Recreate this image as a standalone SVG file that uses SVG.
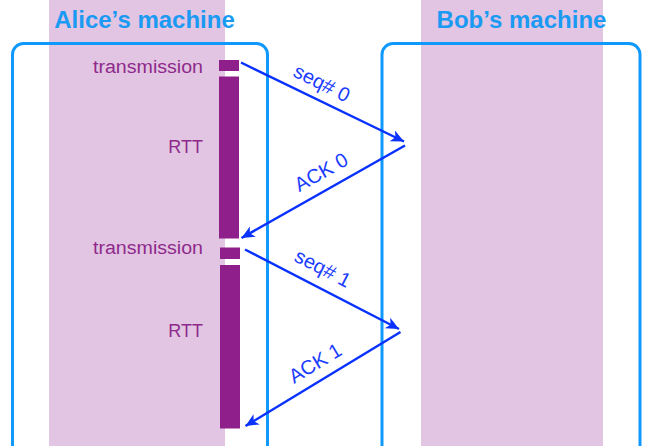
<svg xmlns="http://www.w3.org/2000/svg" width="652" height="446" viewBox="0 0 652 446">
<defs>
<style>
.band{fill:#e2c5e2}
.box{fill:none;stroke:#0f99ff;stroke-width:3}
.title{font-family:"Liberation Sans",Arial,sans-serif;font-weight:bold;font-size:24px;fill:#1a9af2;text-anchor:middle}
.ptxt{font-family:"Liberation Sans",Arial,sans-serif;font-size:18px;fill:#8e2a8c;text-anchor:end}
.bar{fill:#8e1f8b}
.msg{stroke:#0a32ff;stroke-width:2.5;fill:none;marker-end:url(#ah)}
.lbl{font-family:"Liberation Sans",Arial,sans-serif;font-size:20px;fill:#1a3cff;text-anchor:middle;dominant-baseline:central}
</style>
<marker id="ah" markerUnits="userSpaceOnUse" markerWidth="16" markerHeight="14" refX="13" refY="6" orient="auto">
<path d="M0,0 L13,6 L0,12 L3.5,6 Z" fill="#0a32ff"/>
</marker>
</defs>
<rect class="band" x="49" y="0" width="176" height="446"/>
<rect class="band" x="421" y="0" width="182" height="446"/>
<g id="alice">
<rect class="box" x="12.5" y="43.5" width="255" height="440" rx="11"/>
<text class="title" x="144.5" y="27.5">Alice’s machine</text>
</g>
<g id="bob">
<rect class="box" x="382" y="43.5" width="258" height="440" rx="11"/>
<text class="title" x="521.5" y="27.5">Bob’s machine</text>
</g>
<g id="timeline">
<text class="ptxt" x="203" y="73" textLength="110" lengthAdjust="spacingAndGlyphs">transmission</text>
<text class="ptxt" x="203" y="153">RTT</text>
<text class="ptxt" x="203" y="254" textLength="110" lengthAdjust="spacingAndGlyphs">transmission</text>
<text class="ptxt" x="203" y="337">RTT</text>
<rect class="bar" x="219" y="60" width="20" height="11"/>
<rect class="bar" x="219" y="76.5" width="20" height="162"/>
<rect class="bar" x="220" y="247.5" width="20" height="11.5"/>
<rect class="bar" x="220" y="265" width="20" height="163.5"/>
</g>
<g id="connectors">
<line class="msg" x1="241" y1="62.5" x2="404" y2="141.5"/>
<line class="msg" x1="405" y1="145.5" x2="241.5" y2="238"/>
<line class="msg" x1="245" y1="249.5" x2="399" y2="329"/>
<line class="msg" x1="400.5" y1="332" x2="245.5" y2="426"/>
<text class="lbl" transform="translate(322,83) rotate(26.5)">seq# 0</text>
<text class="lbl" transform="translate(321,172) rotate(-29.5)">ACK 0</text>
<text class="lbl" transform="translate(323,268) rotate(27.4)">seq# 1</text>
<text class="lbl" transform="translate(315,363) rotate(-31.2)">ACK 1</text>
</g>
</svg>
